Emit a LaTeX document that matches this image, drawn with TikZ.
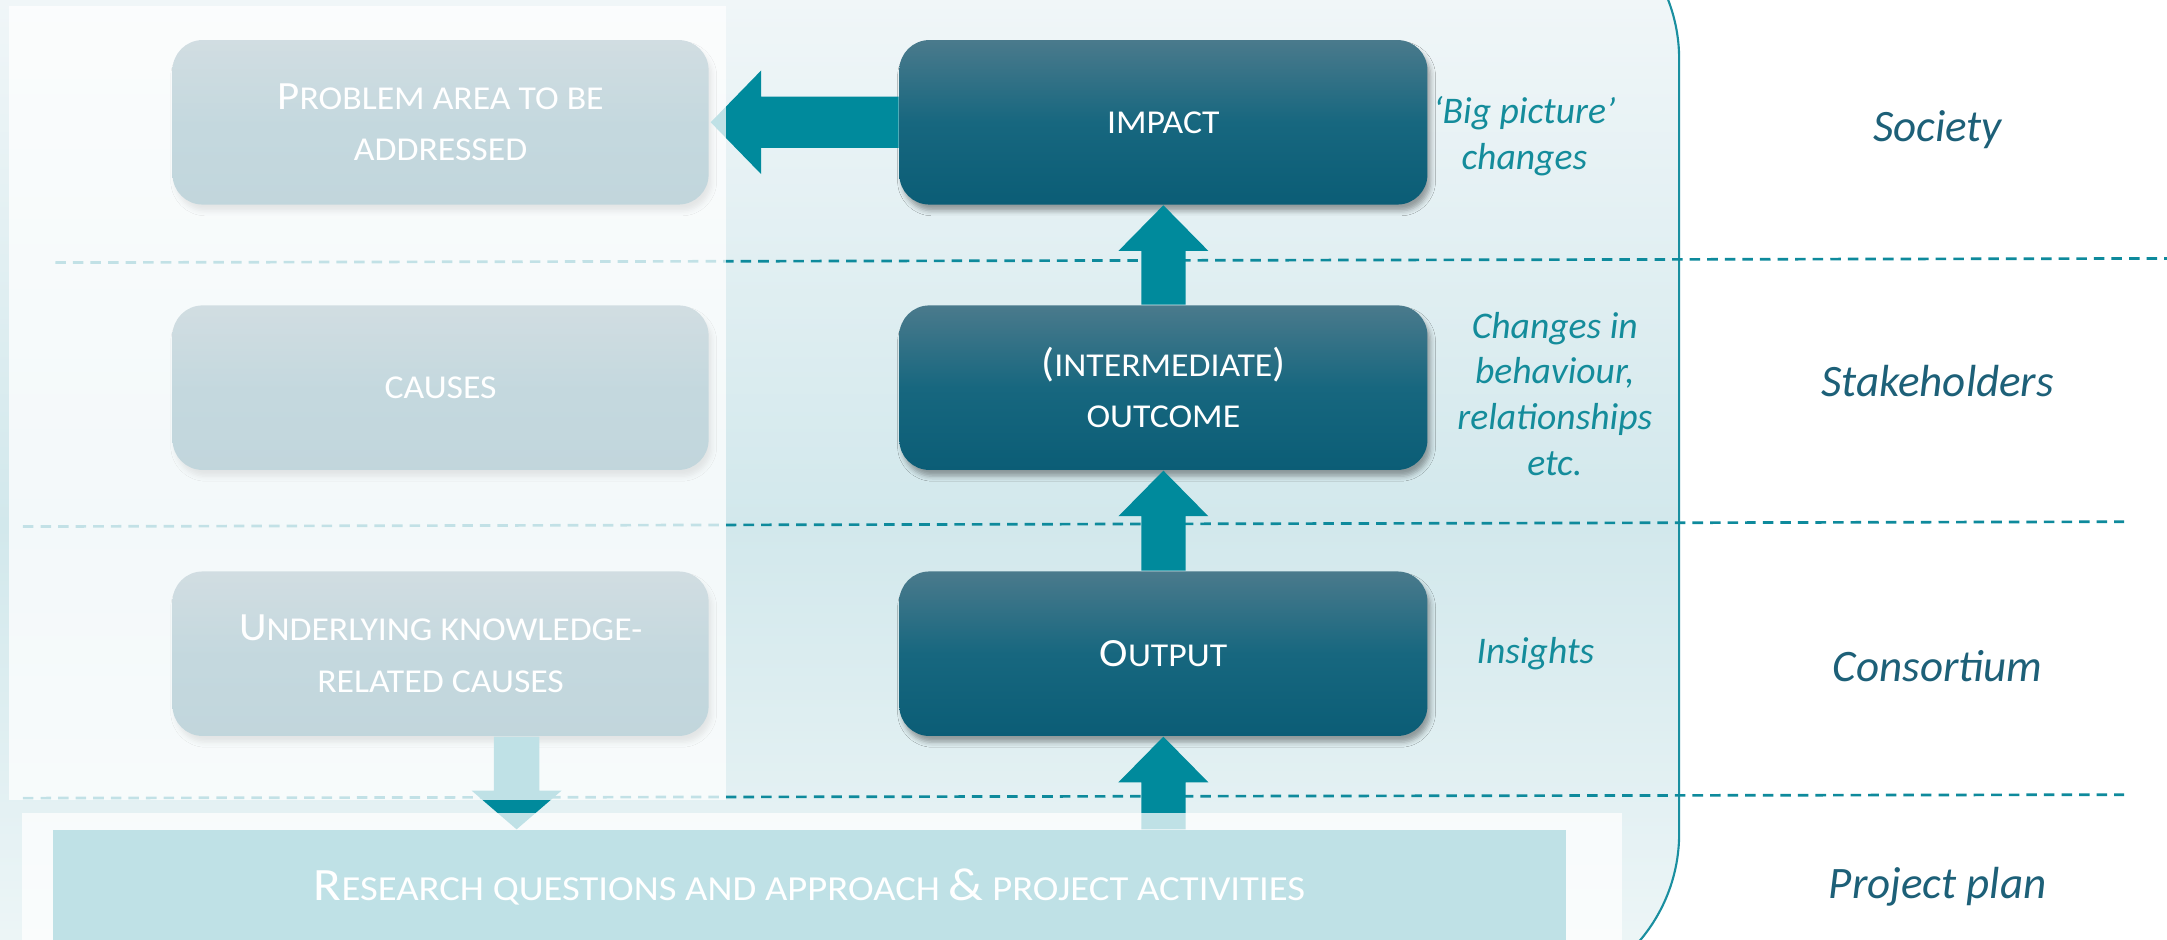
\documentclass[tikz,border=0pt]{standalone}
\usepackage{fontspec}
\setmainfont{Carlito}
\newfontfamily\boxfont[FakeStretch=1.07]{Carlito}
\newfontfamily\resfont[FakeStretch=1.1]{Carlito}
\usetikzlibrary{calc,shadows.blur}
\definecolor{arrowc}{HTML}{008A9C}
\definecolor{dashc}{HTML}{0E8A9C}
\definecolor{boxTop}{HTML}{4A7A8C}
\definecolor{boxMid}{HTML}{17677F}
\definecolor{boxBot}{HTML}{0B5D76}
\definecolor{midlab}{HTML}{148C9B}
\definecolor{sidelab}{HTML}{1D6078}
\definecolor{pTop}{HTML}{F0F6F8}
\definecolor{pMid}{HTML}{D2E8EC}
\definecolor{pBot}{HTML}{F0F7F8}
\definecolor{edgec}{HTML}{1A8FA0}
\newcommand\uc[1]{{\fontsize{11.4}{14.6}\selectfont #1}}
\newcommand\ucR[1]{{\fontsize{13.2}{16}\selectfont #1}}
\newcommand\UpArr[2]{%
  \fill[arrowc] ($(#1)+(-16,0)$) -- ($(#2)+(-16,33)$) -- ($(#2)+(-32.5,33)$) -- (#2)
    -- ($(#2)+(32.5,33)$) -- ($(#2)+(16,33)$) -- ($(#1)+(16,0)$) -- cycle;}
\tikzset{
  stagebox/.style={rounded corners=3mm, minimum height=16.45mm,
    top color=boxTop, bottom color=boxBot, middle color=boxMid, text=white, align=center,
    font=\boxfont\fontsize{9.5}{14.6}\selectfont, inner sep=0pt,
    blur shadow={shadow xshift=0.9pt, shadow yshift=-1.8pt, shadow blur radius=1.4pt, shadow opacity=35}},
  leftbox/.style={stagebox, minimum width=53.6mm},
  rightbox/.style={stagebox, minimum width=52.8mm},
  midlabel/.style={text=midlab, font=\itshape\fontsize{10.7}{13}\selectfont, align=center, inner sep=0pt},
  sidelabel/.style={text=sidelab, font=\itshape\fontsize{12.8}{15}\selectfont, inner sep=0pt, anchor=base},
  levelline/.style={dashc, line width=0.76pt, dash pattern=on 3pt off 2pt},
  veil/.style={white, opacity=0.75},
}
\begin{document}
\begin{tikzpicture}[x=0.1382mm, y=-0.1382mm]
\useasboundingbox (0,0) rectangle (1568,680);
\clip (0,0) rectangle (1568,680);
\fill[white] (0,0) rectangle (1568,680);
% background panel
\begin{scope}
  \clip[rounded corners=16.58mm] (-60,-77) rectangle (1215,723);
  \fill[pTop] (-60,-77) rectangle (1215,0);
  \shade[top color=pTop, bottom color=pMid] (-60,0) rectangle (1215,380);
  \shade[top color=pMid, bottom color=pBot] (-60,380) rectangle (1215,723);
\end{scope}
\draw[edgec, line width=0.6pt, rounded corners=16.58mm] (-60,-77) rectangle (1215,723);
% level lines
\coordinate (l1a) at (40,190);   \coordinate (l1b) at (1568,187);
\coordinate (l2a) at (16.6,381); \coordinate (l2b) at (1537,377.5);
\coordinate (l3a) at (16.6,577.5); \coordinate (l3b) at (1537,575);
\draw[levelline] (l1a) -- (l1b);
\draw[levelline] (l2a) -- (l2b);
\draw[levelline] (l3a) -- (l3b);
% boxes
\node[leftbox] (problem) at (318.8,88.5) {\uc{P}ROBLEM AREA TO BE\\ADDRESSED};
\node[leftbox] (causes) at (318.8,280.5) {CAUSES};
\node[leftbox] (underlying) at (318.8,473) {\uc{U}NDERLYING KNOWLEDGE-\\RELATED CAUSES};
\node[rightbox] (impact) at (841.8,88.5) {IMPACT};
\node[rightbox] (outcome) at (841.8,280.5) {\uc{(}INTERMEDIATE\uc{)}\\OUTCOME};
\node[rightbox] (output) at (841.8,473) {\uc{O}UTPUT};
\node[fill=arrowc, minimum width=151.26mm, minimum height=11.44mm, inner sep=0pt, text=white,
  font=\resfont\fontsize{10}{12}\selectfont] (research) at (585.75,642)
  {\ucR{R}ESEARCH QUESTIONS AND APPROACH \ucR{\&} PROJECT ACTIVITIES};
% arrows
\fill[arrowc] ($(impact.west)+(0,-18.5)$) -- ($(problem.east)+(37.5,-18.5)$) -- ($(problem.east)+(37.5,-37.5)$)
  -- ($(problem.east)+(1,0)$) -- ($(problem.east)+(37.5,37.5)$) -- ($(problem.east)+(37.5,18.5)$)
  -- ($(impact.west)+(0,18.5)$) -- cycle;
\UpArr{outcome.north}{impact.south}
\UpArr{output.north}{outcome.south}
\coordinate (rq) at (research.north -| output.south);
\UpArr{rq}{output.south}
\coordinate (dtop) at ($(underlying.south)+(55,0)$);
\coordinate (dtip) at (dtop |- research.north);
\fill[arrowc] ($(dtop)+(-16.5,0)$) -- ($(dtip)+(-16.5,-28)$) -- ($(dtip)+(-32.5,-28)$) -- (dtip)
  -- ($(dtip)+(32.5,-28)$) -- ($(dtip)+(16.5,-28)$) -- ($(dtop)+(16.5,0)$) -- cycle;
% veils
\fill[veil] (6.2,4.3) rectangle (525.5,579);
\fill[veil] (15.8,588.5) rectangle (1173.7,700);
% middle labels
\node[midlabel] (bigpic) at (1103,98.7) {`Big picture'\\changes};
\node[midlabel] (chg) at (1125,285) {Changes in\\behaviour,\\relationships\\etc.};
\node[midlabel, anchor=base] (ins) at (1111,480) {Insights};
% side labels
\node[sidelabel] (soc) at (1402,102.7) {Society};
\node[sidelabel] (stk) at (1402,287) {Stakeholders};
\node[sidelabel] (con) at (1402,493) {Consortium};
\node[sidelabel] (plan) at (1402,650) {Project plan};
\end{tikzpicture}
\end{document}
